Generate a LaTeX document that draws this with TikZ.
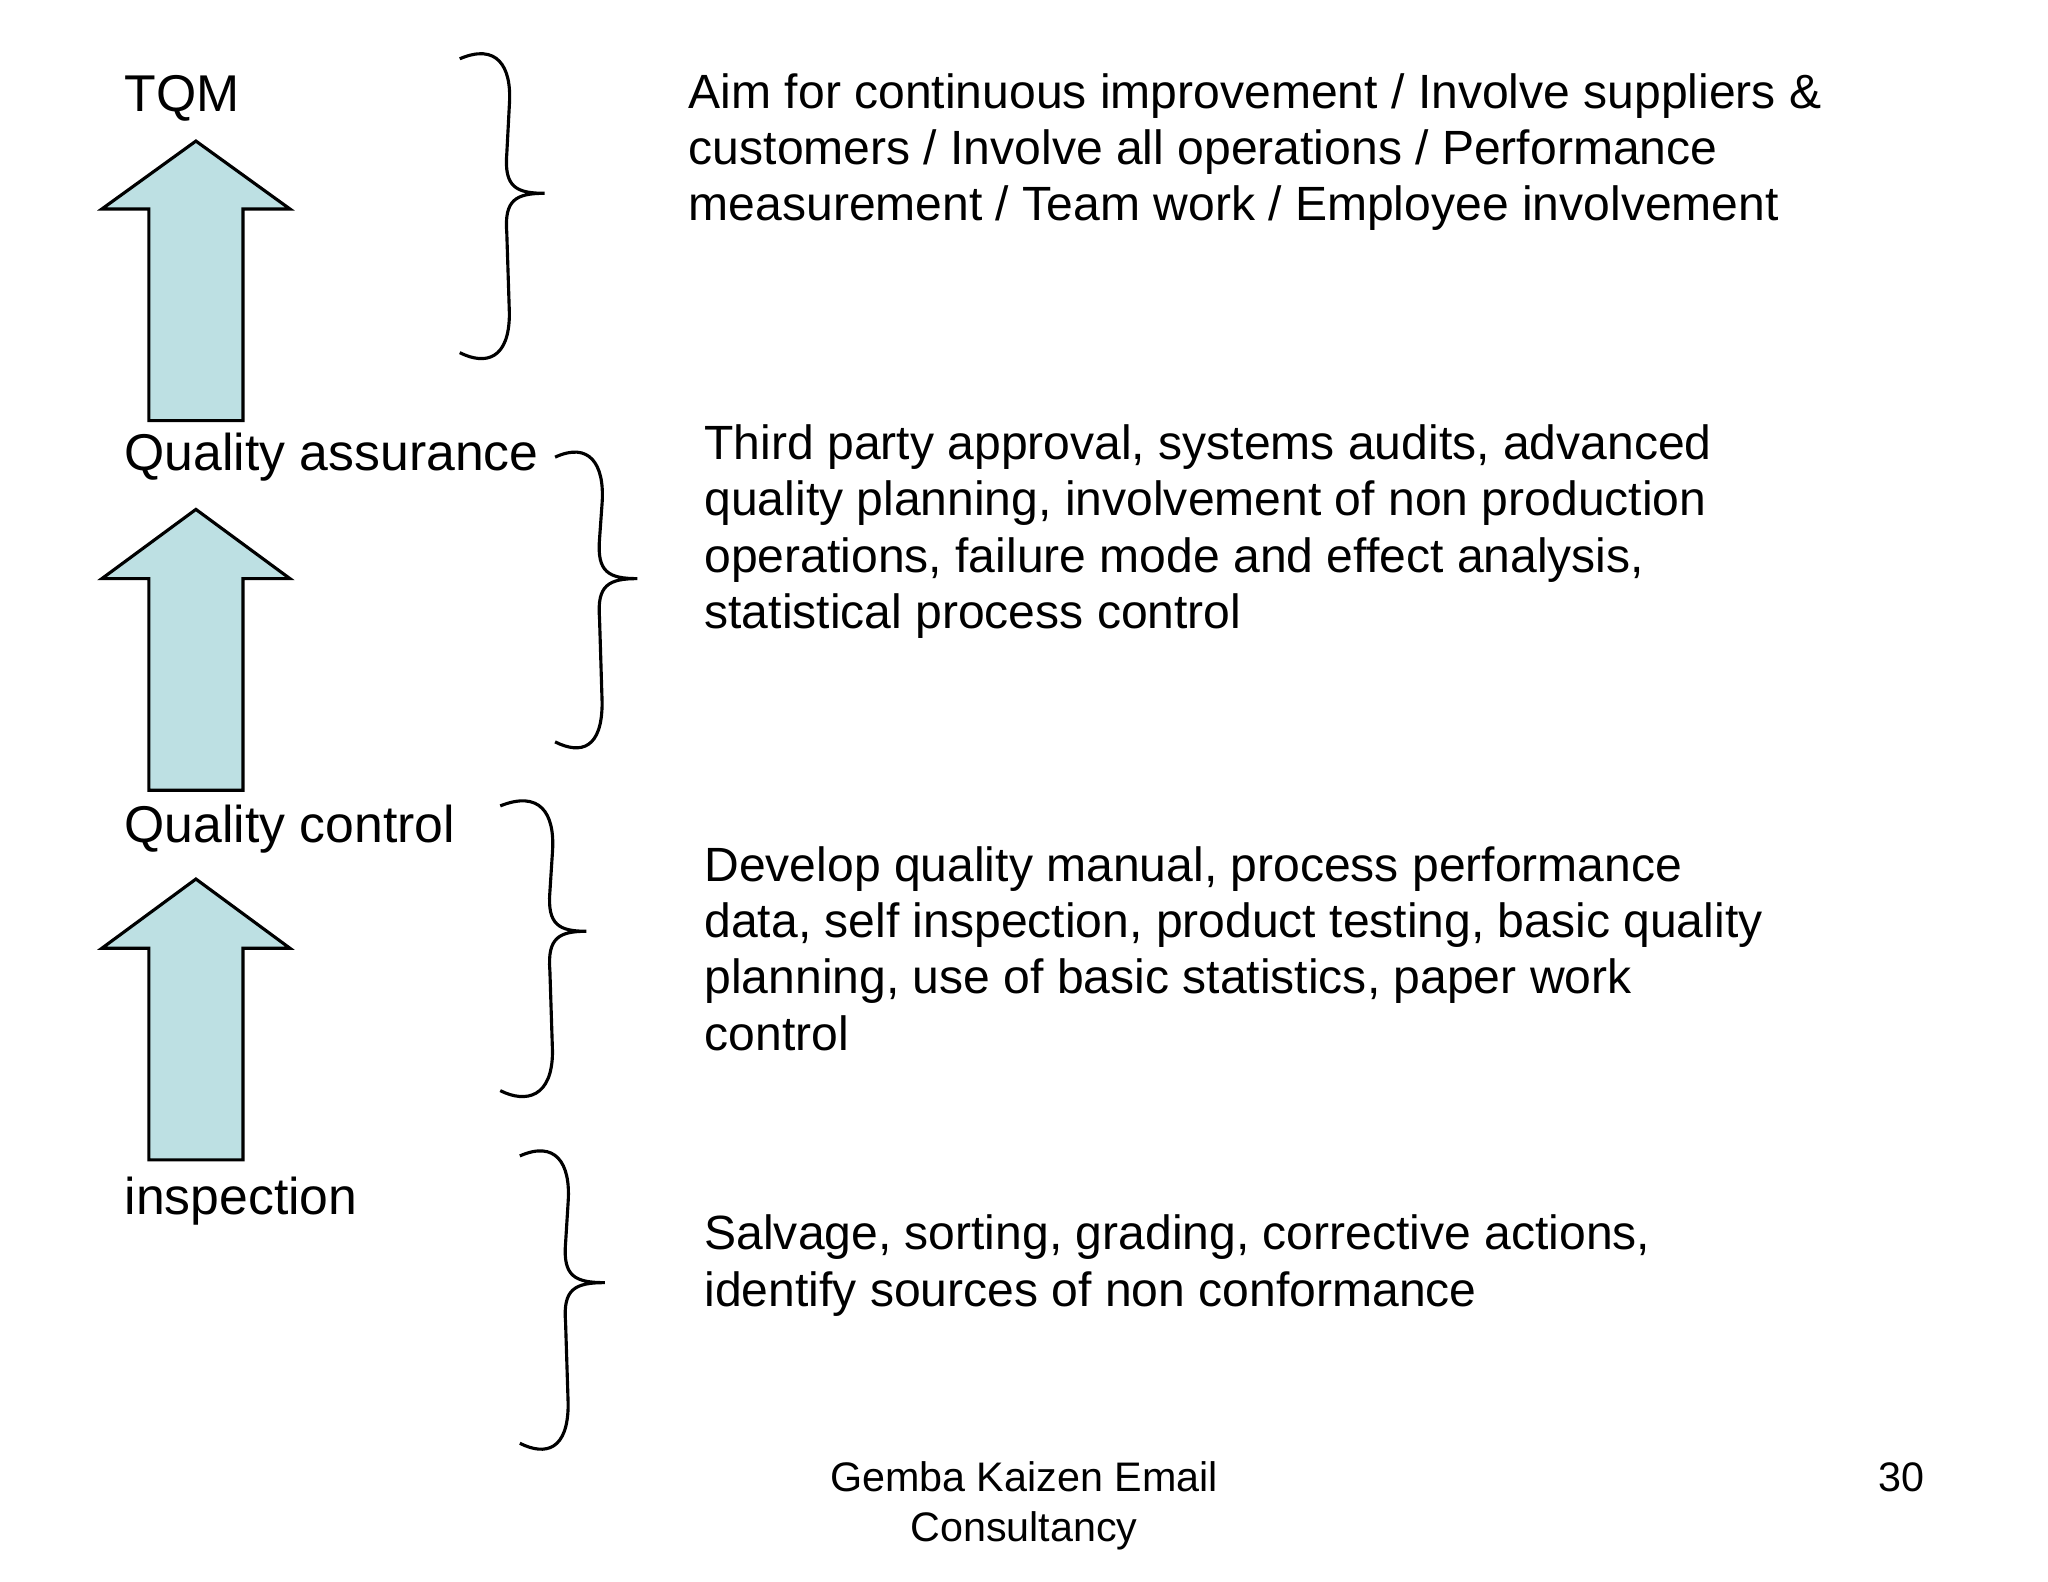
\documentclass[tikz,border=0pt]{standalone}
\usepackage{fontspec}
\setmainfont{Liberation Sans}
\definecolor{arr}{HTML}{BDE0E3}
\newcommand\brc[6]{% x0 ytop xb xtip ym ybot
\draw[line width=1.2pt] (#1,#2) .. controls (#3-10,#2-12) and (#3+2,#2+5) .. (#3,#2+35) -- (#3-2,#5-30) .. controls (#3-4,#5-5) and (#3+5,#5) .. (#4,#5) .. controls (#3+5,#5) and (#3-4,#5+5) .. (#3-2,#5+30) -- (#3,#6-30) .. controls (#3,#6+5) and (#1+20,#6+10) .. (#1,#6);}
\newcommand\uarr[4]{% name ytop ybase ybot
\draw[fill=arr,line width=1.2pt] (114,#4) -- (114,#3) -- (78,#3) -- (150,#2) -- (222,#3) -- (186,#3) -- (186,#4) -- cycle;}
\begin{document}
\begin{tikzpicture}[x=0.5pt,y=-0.5pt,
 lab/.style={anchor=base west,inner sep=0,font=\fontsize{19.8}{23}\selectfont},
 body/.style={anchor=base west,inner sep=0,align=left,font=\fontsize{18.4}{21.5}\selectfont},
 foot/.style={anchor=base,inner sep=0,align=center,font=\fontsize{15.8}{19}\selectfont}]
\useasboundingbox[fill=white] (0,0) rectangle (1568,1211);
\uarr{a1}{108}{160}{322}
\uarr{a2}{390}{443}{605}
\uarr{a3}{673}{726}{888}
\brc{352}{45}{390}{417}{148}{270}
\brc{425}{350}{461}{488}{443}{568}
\brc{383}{617}{423}{449}{713}{835}
\brc{398}{885}{435}{463}{982}{1105}
\node[lab] (l1) at (95,85) {TQM};
\node[lab] (l2) at (95,360) {Quality assurance};
\node[lab] (l3) at (95,645) {Quality control};
\node[lab] (l4) at (95,930) {inspection};
\node[body] (t1) at (527,169) {Aim for continuous improvement / Involve suppliers \&\\customers / Involve all operations / Performance\\measurement / Team work / Employee involvement};
\node[body] (t2) at (539,481) {Third party approval, systems audits, advanced\\quality planning, involvement of non production\\operations, failure mode and effect analysis,\\statistical process control};
\node[body] (t3) at (539,804) {Develop quality manual, process performance\\data, self inspection, product testing, basic quality\\planning, use of basic statistics, paper work\\control};
\node[body] (t4) at (539,1000) {Salvage, sorting, grading, corrective actions,\\identify sources of non conformance};
\node[foot] (f) at (784,1180) {Gemba Kaizen Email\\Consultancy};
\node[foot] (p) at (1456,1142) {30};
\end{tikzpicture}
\end{document}
